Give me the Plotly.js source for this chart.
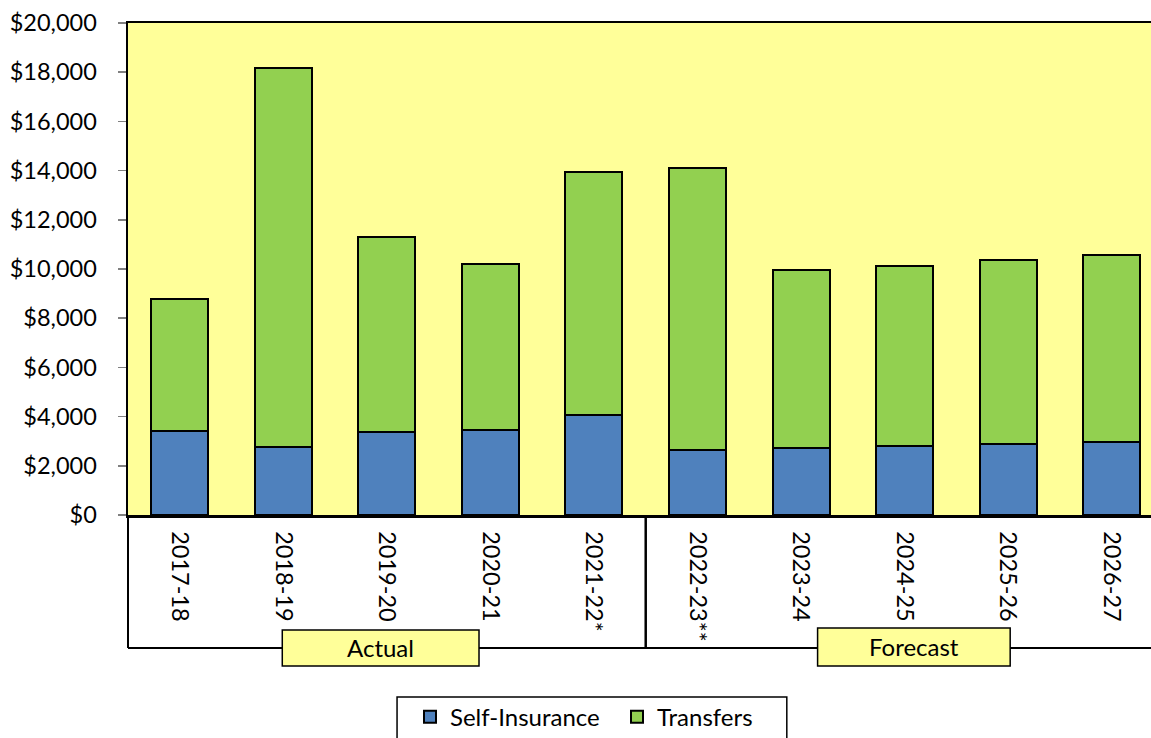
<!DOCTYPE html>
<html>
<head>
<meta charset="utf-8">
<script src="https://cdn.plot.ly/plotly-3.0.1.min.js"></script>
<style>
html, body { margin: 0; padding: 0; overflow: hidden; background: #ffffff; }
#chart { width: 1151px; height: 738px; }
</style>
</head>
<body>
<div id="chart"></div>
<script>
const categories = ["2017-18", "2018-19", "2019-20", "2020-21", "2021-22*", "2022-23**", "2023-24", "2024-25", "2025-26", "2026-27"];
const selfInsurance = [3430, 2780, 3380, 3450, 4050, 2630, 2710, 2810, 2890, 2960];
const transfers = [5340, 15400, 7910, 6750, 9890, 11470, 7240, 7320, 7460, 7610];
const yTicks = [0, 2000, 4000, 6000, 8000, 10000, 12000, 14000, 16000, 18000, 20000];
const groupLabels = ["Actual", "Forecast"];

const yTickText = yTicks.map(v => "$" + v.toLocaleString("en-US"));

const FONT = "Lato, 'Open Sans', sans-serif";
const FS = 24;

const traces = [
  {
    type: "bar", name: "Self-Insurance", x: categories, y: selfInsurance,
    marker: { color: "#4F81BD", line: { color: "#000000", width: 2 } },
    hoverinfo: "x+y"
  },
  {
    type: "bar", name: "Transfers", x: categories, y: transfers,
    marker: { color: "#92D050", line: { color: "#000000", width: 2 } },
    hoverinfo: "x+y"
  }
];

const axisBottom = -133 / 492;

const layout = {
  width: 1151, height: 738,
  margin: { l: 128, r: 0, t: 23, b: 223, autoexpand: false },
  paper_bgcolor: "#ffffff",
  plot_bgcolor: "#FFFF99",
  barmode: "stack",
  bargap: 0.45,
  font: { family: FONT, size: FS, color: "#000000" },
  xaxis: {
    type: "category",
    range: [-0.5, 9.38],
    tickangle: 90,
    ticks: "",
    ticklabelstandoff: 9,
    showline: true, linecolor: "#000000", linewidth: 2.5, mirror: true,
    showgrid: false, zeroline: false,
    tickfont: { family: FONT, size: 23.5, color: "#000000" },
    automargin: false, fixedrange: true
  },
  yaxis: {
    range: [0, 20000],
    tickmode: "array",
    tickvals: yTicks,
    ticktext: yTickText,
    ticks: "outside", ticklen: 8, tickcolor: "#808080", tickwidth: 1.5,
    ticklabelstandoff: 16,
    showline: true, linecolor: "#000000", linewidth: 2.5,
    showgrid: false, zeroline: false,
    tickfont: { family: FONT, size: 23.5, color: "#000000" },
    automargin: false, fixedrange: true
  },
  legend: {
    orientation: "h",
    x: (410 - 128) / 1023, xanchor: "left",
    y: -0.365, yanchor: "top",
    bgcolor: "rgba(0,0,0,0)", borderwidth: 0,
    font: { family: FONT, size: FS, color: "#000000" },
    traceorder: "normal",
    entrywidth: 162
  },
  shapes: [
    { type: "line", xref: "paper", yref: "paper", x0: 0, x1: 0, y0: 0, y1: axisBottom,
      line: { color: "#000000", width: 2 } },
    { type: "line", xref: "paper", yref: "paper", x0: 0, x1: 1, y0: axisBottom, y1: axisBottom,
      line: { color: "#000000", width: 2 } },
    { type: "line", xref: "x", yref: "paper", x0: 4.5, x1: 4.5, y0: 0, y1: axisBottom,
      line: { color: "#000000", width: 2.5 } },
    { type: "rect", xref: "x", yref: "paper", x0: 0.99, x1: 2.89, y0: -0.2337, y1: -0.307,
      fillcolor: "#FFFF99", line: { color: "#000000", width: 1.5 } },
    { type: "rect", xref: "x", yref: "paper", x0: 6.16, x1: 8.02, y0: -0.2297, y1: -0.307,
      fillcolor: "#FFFF99", line: { color: "#000000", width: 1.5 } },
    { type: "rect", xref: "paper", yref: "paper", x0: 0.263, x1: 0.644, y0: -0.37, y1: -0.47,
      fillcolor: "rgba(0,0,0,0)", line: { color: "#000000", width: 1.5 } }
  ],
  annotations: [
    { xref: "x", yref: "paper", x: 1.94, y: -0.2703, text: groupLabels[0], showarrow: false,
      xanchor: "center", yanchor: "middle", font: { family: FONT, size: FS, color: "#000000" } },
    { xref: "x", yref: "paper", x: 7.09, y: -0.2663, text: groupLabels[1], showarrow: false,
      xanchor: "center", yanchor: "middle", font: { family: FONT, size: FS, color: "#000000" } }
  ],
  showlegend: true
};

Plotly.newPlot("chart", traces, layout, { displayModeBar: false, staticPlot: true });
</script>
</body>
</html>
